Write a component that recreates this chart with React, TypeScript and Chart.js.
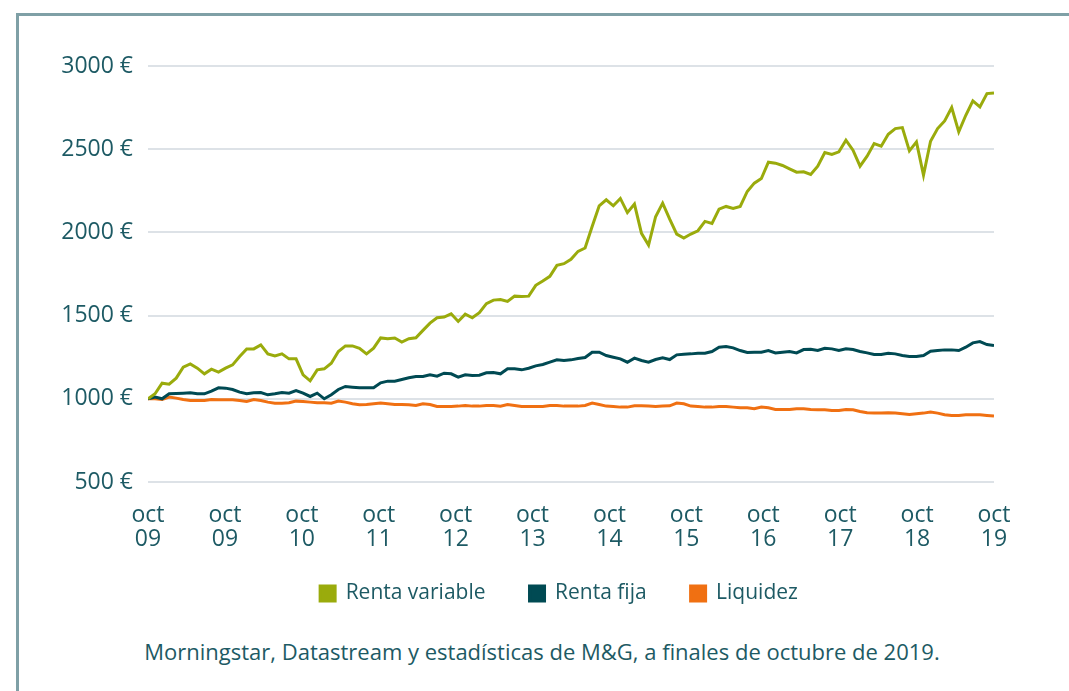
import React, { useEffect, useRef } from "react";
import { Chart, registerables } from "chart.js";

Chart.register(...registerables);

const TICK_LABELS: string[][] = [
  ["oct", "09"], ["oct", "09"], ["oct", "10"], ["oct", "11"], ["oct", "12"], ["oct", "13"],
  ["oct", "14"], ["oct", "15"], ["oct", "16"], ["oct", "17"], ["oct", "18"], ["oct", "19"],
];

const SERIES_NAMES = ["Renta variable", "Renta fija", "Liquidez"];
const SERIES_COLORS = ["#9aab0c", "#004a53", "#f07012"];

const RENTA_VARIABLE = [
  1000, 1030, 1094, 1088, 1124, 1190, 1210, 1184, 1150, 1178,
  1160, 1184, 1204, 1254, 1300, 1300, 1324, 1270, 1258, 1270,
  1240, 1240, 1144, 1108, 1174, 1180, 1214, 1284, 1318, 1318,
  1304, 1270, 1304, 1366, 1361, 1365, 1341, 1361, 1367, 1411,
  1455, 1487, 1491, 1511, 1465, 1509, 1487, 1517, 1572, 1593,
  1597, 1585, 1617, 1615, 1617, 1682, 1708, 1736, 1802, 1812,
  1838, 1886, 1906, 2035, 2160, 2196, 2160, 2204, 2119, 2170,
  1994, 1924, 2094, 2176, 2080, 1990, 1966, 1990, 2010, 2066,
  2054, 2140, 2156, 2144, 2156, 2246, 2296, 2324, 2422, 2416,
  2402, 2382, 2362, 2364, 2348, 2398, 2480, 2468, 2484, 2554,
  2494, 2398, 2458, 2534, 2518, 2590, 2624, 2630, 2490, 2544,
  2344, 2548, 2624, 2670, 2750, 2604, 2704, 2790, 2754, 2834,
  2838,
];

const RENTA_FIJA = [
  1000, 1010, 1000, 1030, 1032, 1034, 1036, 1030, 1030, 1046,
  1066, 1064, 1056, 1040, 1030, 1036, 1038, 1024, 1030, 1038,
  1034, 1050, 1034, 1014, 1034, 1000, 1024, 1056, 1074, 1070,
  1066, 1066, 1066, 1096, 1106, 1106, 1116, 1126, 1134, 1134,
  1144, 1136, 1154, 1150, 1130, 1144, 1140, 1142, 1156, 1158,
  1150, 1180, 1180, 1174, 1184, 1198, 1206, 1220, 1234, 1230,
  1234, 1242, 1248, 1280, 1280, 1260, 1250, 1240, 1220, 1244,
  1230, 1220, 1236, 1246, 1236, 1264, 1268, 1270, 1274, 1274,
  1284, 1310, 1314, 1306, 1290, 1278, 1280, 1280, 1290, 1276,
  1280, 1284, 1276, 1296, 1298, 1290, 1304, 1300, 1290, 1300,
  1296, 1284, 1276, 1266, 1266, 1274, 1270, 1260, 1254, 1254,
  1260, 1286, 1290, 1294, 1294, 1290, 1310, 1336, 1344, 1326,
  1320,
];

const LIQUIDEZ = [
  1000, 1000, 996, 1010, 1004, 996, 990, 990, 990, 996,
  994, 994, 994, 990, 984, 996, 990, 980, 974, 974,
  976, 986, 984, 980, 976, 976, 974, 986, 980, 970,
  964, 966, 970, 974, 970, 966, 966, 964, 960, 970,
  966, 954, 954, 954, 956, 960, 956, 956, 960, 960,
  956, 966, 960, 954, 954, 954, 954, 960, 960, 956,
  956, 956, 960, 974, 966, 956, 954, 950, 950, 958,
  958, 956, 954, 956, 958, 974, 970, 956, 954, 950,
  950, 954, 954, 950, 946, 946, 940, 950, 946, 936,
  936, 936, 940, 940, 936, 934, 934, 930, 930, 936,
  934, 924, 916, 914, 914, 916, 914, 910, 906, 910,
  914, 920, 914, 904, 900, 900, 904, 904, 904, 900,
  896,
];

const Y_MIN = 500;
const Y_MAX = 3000;
const Y_STEP = 500;

const CAPTION = "Morningstar, Datastream y estadísticas de M&G, a finales de octubre de 2019.";

const TEXT_COLOR = "#1d5a64";
const FONT_FAMILY = "'Open Sans', sans-serif";
const LEGEND_CENTER_X = 559;
const LEGEND_TOP = 539;

const legendPlacePlugin = {
  id: "legendPlace",
  afterLayout(chart: any) {
    const lg = chart.legend;
    if (!lg) return;
    const w = lg.right - lg.left;
    const h = lg.bottom - lg.top;
    lg.left = LEGEND_CENTER_X - w / 2;
    lg.right = lg.left + w;
    lg.top = LEGEND_TOP;
    lg.bottom = LEGEND_TOP + h;
  },
};

export default function App() {
  const canvasRef = useRef<HTMLCanvasElement>(null);

  useEffect(() => {
    const canvas = canvasRef.current;
    if (!canvas) return;
    const lastIndex = RENTA_VARIABLE.length - 1;
    const toPoints = (arr: number[]) => arr.map((y, i) => ({ x: i, y }));
    const seriesValues = [RENTA_VARIABLE, RENTA_FIJA, LIQUIDEZ];

    const chart = new Chart(canvas, {
      type: "line",
      data: {
        datasets: seriesValues.map((vals, k) => ({
          label: SERIES_NAMES[k],
          data: toPoints(vals),
          borderColor: SERIES_COLORS[k],
          backgroundColor: SERIES_COLORS[k],
          borderWidth: 3,
          pointRadius: 0,
          tension: 0,
          borderJoinStyle: "miter" as const,
        })),
      },
      plugins: [legendPlacePlugin],
      options: {
        animation: false,
        responsive: false,
        maintainAspectRatio: false,
        layout: { padding: { left: 40, right: 75, top: 66, bottom: 0 } },
        plugins: {
          legend: {
            position: "bottom",
            labels: {
              boxWidth: 15,
              boxHeight: 15,
              padding: 44,
              color: TEXT_COLOR,
              font: { family: FONT_FAMILY, size: 21 },
            },
          },
          tooltip: { enabled: false },
        },
        scales: {
          x: {
            type: "linear",
            min: 0,
            max: lastIndex,
            grid: { display: false, drawTicks: false },
            border: { display: false },
            afterBuildTicks: (scale: any) => {
              scale.ticks = TICK_LABELS.map((_, k) => ({
                value: (k * lastIndex) / (TICK_LABELS.length - 1),
              }));
            },
            afterFit: (scale: any) => {
              scale.height = 70;
            },
            ticks: {
              autoSkip: false,
              maxRotation: 0,
              minRotation: 0,
              padding: 21,
              color: TEXT_COLOR,
              font: { family: FONT_FAMILY, size: 23, lineHeight: "24px" },
              callback: (_v: any, i: number) => TICK_LABELS[i],
            },
          },
          y: {
            min: Y_MIN,
            max: Y_MAX,
            afterFit: (scale: any) => {
              scale.width = 108;
            },
            grid: { color: "#dde2e7", lineWidth: 2, drawTicks: false },
            border: { display: false },
            ticks: {
              stepSize: Y_STEP,
              padding: 15,
              color: TEXT_COLOR,
              font: { family: FONT_FAMILY, size: 23 },
              callback: (v: any) => `${v} €`,
            },
          },
        },
      },
    });
    return () => chart.destroy();
  }, []);

  return (
    <div
      style={{
        position: "absolute",
        left: 0,
        top: 0,
        width: 1069,
        height: 691,
        overflow: "hidden",
        background: "#ffffff",
      }}
    >
      <div
        style={{
          position: "absolute",
          left: 16,
          top: 13,
          width: 1200,
          height: 800,
          borderLeft: "3px solid #7fa0a6",
          borderTop: "3px solid #7fa0a6",
        }}
      />
      <canvas
        ref={canvasRef}
        width={1069}
        height={627}
        style={{ position: "absolute", left: 0, top: 0, width: 1069, height: 627, display: "block" }}
      />
      <div
        style={{
          position: "absolute",
          left: 0,
          top: 639,
          width: 1084,
          textAlign: "center",
          fontFamily: FONT_FAMILY,
          fontSize: 22,
          lineHeight: "24px",
          color: TEXT_COLOR,
          whiteSpace: "nowrap",
        }}
      >
        {CAPTION}
      </div>
    </div>
  );
}
